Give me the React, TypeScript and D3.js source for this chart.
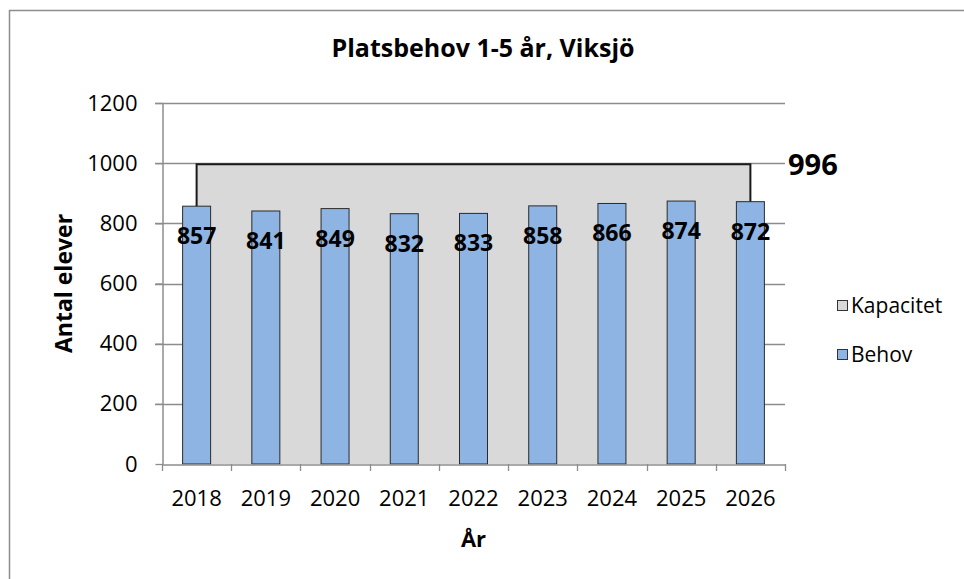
import { useEffect, useRef } from "react";
import * as d3 from "d3";

const years = ["2018", "2019", "2020", "2021", "2022", "2023", "2024", "2025", "2026"];
const behov = [857, 841, 849, 832, 833, 858, 866, 874, 872];
const kapacitet = [996, 996, 996, 996, 996, 996, 996, 996, 996];
const yTicks = [0, 200, 400, 600, 800, 1000, 1200];

const FONT = "'Open Sans', 'Liberation Sans', sans-serif";

export default function App() {
  const svgRef = useRef<SVGSVGElement | null>(null);

  useEffect(() => {
    const svg = d3.select(svgRef.current);
    const width = 964;
    const height = 579;
    const margin = { top: 103, right: 179, bottom: 115, left: 162 };

    svg.selectAll("*").remove();
    svg.attr("width", width).attr("height", height);

    // outer chart frame
    svg.append("rect")
      .attr("x", 9.5)
      .attr("y", 10.5)
      .attr("width", width)
      .attr("height", height)
      .attr("fill", "white")
      .attr("stroke", "#8c8c8c")
      .attr("stroke-width", 1.5);

    const x = d3.scaleBand<string>()
      .domain(years)
      .range([margin.left, width - margin.right]);

    const y = d3.scaleLinear()
      .domain([0, 1200])
      .range([height - margin.bottom, margin.top]);

    const x0 = margin.left;
    const x1 = width - margin.right;

    // gridlines
    svg.append("g")
      .selectAll("line")
      .data(yTicks.filter((t) => t > 0))
      .enter()
      .append("line")
      .attr("x1", x0 - 7)
      .attr("x2", x1)
      .attr("y1", (d) => Math.round(y(d)) + 0.5)
      .attr("y2", (d) => Math.round(y(d)) + 0.5)
      .attr("stroke", "#8c8c8c")
      .attr("stroke-width", 1.3);

    // kapacitet area
    const cx = (d: string) => (x(d) || 0) + x.bandwidth() / 2;
    const area = d3.area<number>()
      .x((_, i) => cx(years[i]))
      .y0(y(0))
      .y1((d) => y(d));
    svg.append("path")
      .datum(kapacitet)
      .attr("d", area)
      .attr("fill", "#d9d9d9");
    const outline = d3.line<[number, number]>();
    svg.append("path")
      .attr("d", outline([
        [cx(years[0]), y(0)],
        ...kapacitet.map((v, i) => [cx(years[i]), y(v)] as [number, number]),
        [cx(years[years.length - 1]), y(0)],
      ]))
      .attr("fill", "none")
      .attr("stroke", "#1a1a1a")
      .attr("stroke-width", 2);

    // y axis
    const yAxis = svg.append("g")
      .attr("transform", `translate(${x0 + 0.5},0)`)
      .call(d3.axisLeft(y).tickValues(yTicks).tickFormat(d3.format("d")).tickSize(7).tickSizeOuter(0).tickPadding(18));
    yAxis.select(".domain").attr("stroke", "#8c8c8c").attr("stroke-width", 1.5);
    yAxis.selectAll(".tick line").attr("stroke", "#8c8c8c").attr("stroke-width", 1.3);
    yAxis.selectAll(".tick text")
      .attr("font-family", FONT)
      .attr("font-size", 22)
      .attr("fill", "#000");

    // bars
    const barW = 28;
    svg.append("g")
      .selectAll("rect")
      .data(behov)
      .enter()
      .append("rect")
      .attr("x", (_, i) => cx(years[i]) - barW / 2)
      .attr("y", (d) => y(d))
      .attr("width", barW)
      .attr("height", (d) => y(0) - y(d))
      .attr("fill", "#8eb4e3")
      .attr("stroke", "#2b2b2b")
      .attr("stroke-width", 1);

    // x axis
    const xAxis = svg.append("g")
      .attr("transform", `translate(0,${y(0) + 0.5})`)
      .call(d3.axisBottom(x).tickSize(0).tickSizeOuter(0).tickPadding(26));
    xAxis.select(".domain").attr("stroke", "#8c8c8c").attr("stroke-width", 1.5);
    xAxis.selectAll(".tick text")
      .attr("font-family", FONT)
      .attr("font-size", 22)
      .attr("fill", "#000");
    svg.append("g")
      .selectAll("line")
      .data(d3.range(years.length + 1))
      .enter()
      .append("line")
      .attr("x1", (i) => Math.round(x0 + i * x.step()) + 0.5)
      .attr("x2", (i) => Math.round(x0 + i * x.step()) + 0.5)
      .attr("y1", y(0))
      .attr("y2", y(0) + 7)
      .attr("stroke", "#8c8c8c")
      .attr("stroke-width", 1.3);

    // value labels
    svg.append("g")
      .selectAll("text")
      .data(behov)
      .enter()
      .append("text")
      .attr("x", (_, i) => cx(years[i]))
      .attr("y", (d) => y(d) + 38)
      .attr("text-anchor", "middle")
      .attr("font-family", FONT)
      .attr("font-weight", "bold")
      .attr("font-size", 23)
      .attr("fill", "#000")
      .text((d) => d);

    svg.append("text")
      .attr("x", x1 + 3)
      .attr("y", y(kapacitet[kapacitet.length - 1]) + 11)
      .attr("font-family", FONT)
      .attr("font-weight", "bold")
      .attr("font-size", 29)
      .attr("fill", "#000")
      .text(kapacitet[kapacitet.length - 1]);

    // title and axis titles
    svg.append("text")
      .attr("x", 483)
      .attr("y", 57)
      .attr("text-anchor", "middle")
      .attr("font-family", FONT)
      .attr("font-weight", "bold")
      .attr("font-size", 25)
      .text("Platsbehov 1-5 år, Viksjö");

    svg.append("text")
      .attr("transform", `translate(72,${(y(0) + y(1200)) / 2}) rotate(-90)`)
      .attr("text-anchor", "middle")
      .attr("font-family", FONT)
      .attr("font-weight", "bold")
      .attr("font-size", 23)
      .text("Antal elever");

    svg.append("text")
      .attr("x", (x0 + x1) / 2)
      .attr("y", 547)
      .attr("text-anchor", "middle")
      .attr("font-family", FONT)
      .attr("font-weight", "bold")
      .attr("font-size", 22)
      .text("År");

    // legend
    const legendItems = [
      { label: "Kapacitet", color: "#d9d9d9" },
      { label: "Behov", color: "#8eb4e3" },
    ];
    const legend = svg.append("g").attr("transform", "translate(837,300)");
    legendItems.forEach((item, i) => {
      const row = legend.append("g").attr("transform", `translate(0,${i * 49})`);
      row.append("rect")
        .attr("x", 0.5)
        .attr("y", 0.5)
        .attr("width", 10)
        .attr("height", 10)
        .attr("fill", item.color)
        .attr("stroke", "#333")
        .attr("stroke-width", 1);
      row.append("text")
        .attr("x", 14)
        .attr("y", 13)
        .attr("font-family", FONT)
        .attr("font-size", 21)
        .attr("fill", "#000")
        .text(item.label);
    });
  }, []);

  return (
    <div style={{ position: "absolute", left: 0, top: 0 }}>
      <svg ref={svgRef} style={{ display: "block" }} />
    </div>
  );
}
